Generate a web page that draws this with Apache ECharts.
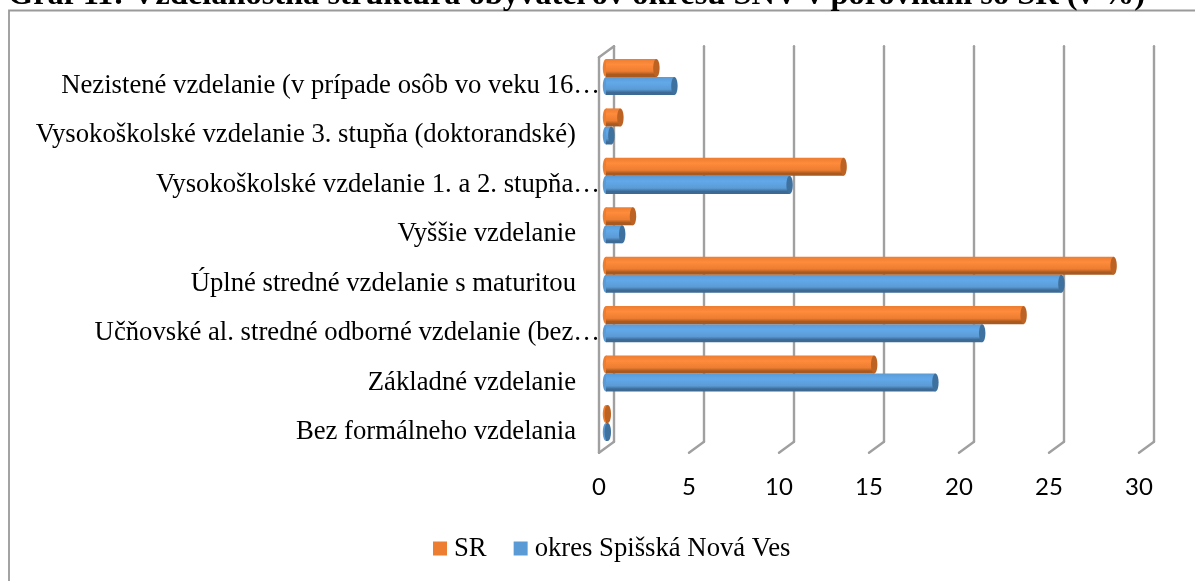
<!DOCTYPE html>
<html><head><meta charset="utf-8">
<style>html,body{margin:0;padding:0;background:#fff;overflow:hidden}#c{width:1195px;height:581px}</style>
<script src="https://cdn.jsdelivr.net/npm/echarts@6/dist/echarts.min.js"></script>
</head><body><div id="c"></div>
<script>
const titleText = 'Graf 11: Vzdelanostná štruktúra obyvateľov okresu SNV v porovnaní so SR (v %)';
const categories = [
  'Bez formálneho vzdelania',
  'Základné vzdelanie',
  'Učňovské al. stredné odborné vzdelanie (bez…',
  'Úplné stredné vzdelanie s maturitou',
  'Vyššie vzdelanie',
  'Vysokoškolské vzdelanie 1. a 2. stupňa…',
  'Vysokoškolské vzdelanie 3. stupňa (doktorandské)',
  'Nezistené vzdelanie (v prípade osôb vo veku 16…'
];
const srValues =    [0.1, 14.9, 23.2, 28.2, 1.5, 13.2, 0.8, 2.8];
const okresValues = [0.1, 18.3, 20.9, 25.3, 0.9, 10.2, 0.3, 3.8];
const ticks = [0, 5, 10, 15, 20, 25, 30];
const seriesNames = ['SR', 'okres Spišská Nová Ves'];

const SERIF = '"Liberation Serif","Times New Roman",serif';
const palettes = {
  sr:    {base:'#ED7D31', light:'#FF8B3C', dark:'#A85A20', cap:'#BC6222'},
  okres: {base:'#5B9BD5', light:'#62A9EA', dark:'#3C6A94', cap:'#3F719F'}
};
const DEPTH_BACK = 8, DEPTH_FRONT = 7, SKEW = 11;

function cylinder(pal, side) {
  return function (params, api) {
    const cat = api.value(0), val = api.value(1);
    const end = api.coord([val, cat]);
    const start = api.coord([0, cat]);
    const size = api.size([0, 1])[1];
    const h = size * 0.365;
    const cy = end[1] + (side < 0 ? -h / 2 : h / 2);
    const rx = 3.2;
    const x0 = start[0], x1 = end[0];
    const grad = new echarts.graphic.LinearGradient(0, 0, 0, 1, [
      {offset: 0, color: pal.base}, {offset: 0.3, color: pal.light},
      {offset: 0.68, color: pal.base}, {offset: 0.86, color: pal.dark},
      {offset: 1, color: pal.dark}
    ]);
    return {type: 'group', children: [
      {type: 'ellipse', shape: {cx: x0, cy: cy, rx: rx, ry: h / 2}, style: {fill: pal.base}},
      {type: 'rect', shape: {x: x0, y: cy - h / 2, width: Math.max(x1 - x0, 0), height: h}, style: {fill: grad}},
      {type: 'ellipse', shape: {cx: x1, cy: cy, rx: rx, ry: h / 2}, style: {fill: pal.cap}}
    ]};
  };
}

function wall(params, api) {
  const t = api.value(0);
  const p = api.coord([t, 0]);
  const rect = params.coordSys;
  const top = rect.y - 6, bot = rect.y + rect.height - 6;
  const lines = [
    [p[0] + DEPTH_BACK, top, p[0] + DEPTH_BACK, bot],
    [p[0] + DEPTH_BACK, bot, p[0] - DEPTH_FRONT, bot + SKEW]
  ];
  if (t === ticks[0]) {
    lines.push([p[0] - DEPTH_FRONT, top + SKEW, p[0] - DEPTH_FRONT, bot + SKEW]);
    lines.push([p[0] - DEPTH_FRONT, top + SKEW, p[0] + DEPTH_BACK, top]);
  }
  return {type: 'group', children: lines.map(l => ({
    type: 'line', shape: {x1: l[0], y1: l[1], x2: l[2], y2: l[3]},
    style: {stroke: '#a0a0a0', lineWidth: 2.4, lineCap: 'round'}
  }))};
}

const chart = echarts.init(document.getElementById('c'), null, {renderer: 'canvas'});
chart.setOption({
  animation: false,
  backgroundColor: '#fff',
  title: {text: titleText, left: 8, top: -20, padding: 0,
    textStyle: {fontFamily: SERIF, fontSize: 32.4, fontWeight: 'bold', color: '#000'}},
  graphic: [{type: 'rect', z: -10, shape: {x: 9, y: 10.5, width: 1300, height: 700},
    style: {fill: 'transparent', stroke: '#9a9a9a', lineWidth: 1.8}}],
  legend: {
    data: seriesNames, top: 535, left: 433, padding: 0, itemWidth: 14, itemHeight: 14, itemGap: 27, icon: 'rect',
    textStyle: {fontFamily: SERIF, fontSize: 26.7, color: '#000', padding: [0, 0, 0, 2]}
  },
  grid: {left: 606, width: 540, top: 52.3, height: 395.4, containLabel: false},
  xAxis: {type: 'value', min: 0, max: 30, interval: 5,
    axisLine: {show: false}, axisTick: {show: false}, splitLine: {show: false},
    axisLabel: {fontFamily: 'Lato', fontSize: 24, color: '#000', margin: 28, padding: [0, 14, 0, 0], hideOverlap: false}},
  yAxis: {type: 'category', data: categories,
    axisLine: {show: false}, axisTick: {show: false}, splitLine: {show: false},
    axisLabel: {
      interval: 0, margin: 6, color: '#000',
      formatter: v => v.endsWith('…') ? '{a|' + v + '}' : '{b|' + v + '}',
      rich: {
        a: {fontFamily: SERIF, fontSize: 26.7, color: '#000', padding: [18, 0, 0, 0]},
        b: {fontFamily: SERIF, fontSize: 26.7, color: '#000', padding: [18, 24, 0, 0]}
      }
    }},
  series: [
    {type: 'custom', name: 'wall', silent: true, z: 1, renderItem: wall, encode: {x: 0},
     data: ticks.map(t => [t]), legendHoverLink: false},
    {type: 'custom', name: seriesNames[0], z: 3, itemStyle: {color: palettes.sr.base},
     renderItem: cylinder(palettes.sr, -1), encode: {x: 1, y: 0},
     data: categories.map((c, i) => [i, srValues[i]])},
    {type: 'custom', name: seriesNames[1], z: 2, itemStyle: {color: palettes.okres.base},
     renderItem: cylinder(palettes.okres, 1), encode: {x: 1, y: 0},
     data: categories.map((c, i) => [i, okresValues[i]])}
  ]
});
</script></body></html>
